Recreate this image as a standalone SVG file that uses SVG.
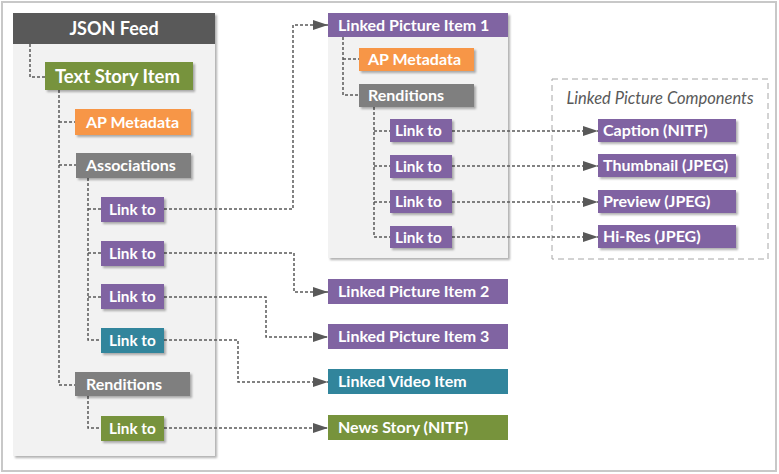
<svg xmlns="http://www.w3.org/2000/svg" width="779" height="474" viewBox="0 0 779 474">
<defs>
<style>
.t{font-family:Lato,"Liberation Sans",sans-serif;font-weight:bold;fill:#ffffff;font-size:16px}
.l{font-size:15.3px}
.big{font-size:18.5px}
.hdr{font-size:18px}
.it{font-family:Lato,"Liberation Sans",sans-serif;font-style:italic;fill:#595959;font-size:16.5px}
.c{fill:none;stroke:#595959;stroke-width:1.5;stroke-dasharray:3 2}
.panel{fill:#f2f2f2}
.g{fill:#77933c}.o{fill:#f79646}.gr{fill:#7f7f7f}.p{fill:#8064a2}.tl{fill:#31859c}.dk{fill:#595959}
</style>
<filter id="sh" x="-10%" y="-10%" width="130%" height="140%">
<feDropShadow dx="2" dy="2" stdDeviation="0.8" flood-color="#000" flood-opacity="0.3"/>
</filter>
<marker id="ar" markerUnits="userSpaceOnUse" markerWidth="15" markerHeight="10" refX="15" refY="5" orient="auto">
<path d="M0,0 L15,5 L0,10 z" fill="#595959"/>
</marker>
</defs>
<rect x="2" y="2" width="774" height="469" fill="#ffffff" stroke="#c8c8c8" stroke-width="2"/>

<g id="json-feed">
<rect x="13" y="13" width="202" height="443" class="panel" filter="url(#sh)"/>
<rect x="13" y="13" width="202" height="31" class="dk"/>
<text x="114" y="35" class="t hdr" text-anchor="middle">JSON Feed</text>
</g>
<g id="linked-picture-item-1">
<rect x="328" y="13" width="180" height="245" class="panel" filter="url(#sh)"/>
<rect x="328" y="13" width="180" height="24" class="p"/>
<text x="338" y="30.5" class="t">Linked Picture Item 1</text>
</g>
<g id="components">
<rect x="552" y="79" width="216" height="180" fill="none" stroke="#a6a6a6" stroke-width="1" stroke-dasharray="6 4"/>
<text x="660" y="104" class="it" text-anchor="middle">Linked Picture Components</text>
</g>

<g id="connectors">
<path class="c" d="M30,44 V77 H45"/>
<path class="c" d="M59,90 V385 H75 M59,122 H75 M59,165 H76"/>
<path class="c" d="M88,178 V340 H101 M88,209 H101 M88,253 H101 M88,297 H101"/>
<path class="c" d="M88,396 V428 H101"/>
<path class="c" d="M164,209 H293 V25 H328" marker-end="url(#ar)"/>
<path class="c" d="M164,253 H294 V292 H328" marker-end="url(#ar)"/>
<path class="c" d="M164,297 H266 V337 H328" marker-end="url(#ar)"/>
<path class="c" d="M164,340 H238 V382 H328" marker-end="url(#ar)"/>
<path class="c" d="M164,428 H328" marker-end="url(#ar)"/>
<path class="c" d="M343,37 V95 H359 M343,59 H359"/>
<path class="c" d="M374,107 V237 H390 M374,131 H390 M374,166 H390 M374,202 H390"/>
<path class="c" d="M452,131 H598" marker-end="url(#ar)"/>
<path class="c" d="M452,166 H598" marker-end="url(#ar)"/>
<path class="c" d="M452,202 H598" marker-end="url(#ar)"/>
<path class="c" d="M452,237 H598" marker-end="url(#ar)"/>
</g>

<g id="text-story-item"><rect x="45" y="62" width="148" height="28" class="g" filter="url(#sh)"/><text x="55" y="82.5" class="t big">Text Story Item</text></g>
<g id="ap-metadata"><rect x="75" y="109" width="116" height="26" class="o" filter="url(#sh)"/><text x="86" y="127.5" class="t">AP Metadata</text></g>
<g id="associations"><rect x="76" y="153" width="115" height="25" class="gr" filter="url(#sh)"/><text x="86" y="171" class="t">Associations</text></g>
<g id="link-1"><rect x="101" y="197" width="63" height="25" class="p" filter="url(#sh)"/><text x="109" y="215" class="t l">Link to</text></g>
<g id="link-2"><rect x="101" y="241" width="63" height="25" class="p" filter="url(#sh)"/><text x="109" y="259" class="t l">Link to</text></g>
<g id="link-3"><rect x="101" y="284" width="63" height="25" class="p" filter="url(#sh)"/><text x="109" y="302" class="t l">Link to</text></g>
<g id="link-4"><rect x="101" y="328" width="63" height="25" class="tl" filter="url(#sh)"/><text x="109" y="346" class="t l">Link to</text></g>
<g id="renditions"><rect x="75" y="372" width="115" height="24" class="gr" filter="url(#sh)"/><text x="86" y="389.5" class="t">Renditions</text></g>
<g id="link-5"><rect x="101" y="416" width="63" height="25" class="g" filter="url(#sh)"/><text x="109" y="434" class="t l">Link to</text></g>

<g id="lpi1-ap-metadata"><rect x="359" y="48" width="115" height="23" class="o" filter="url(#sh)"/><text x="368" y="65" class="t">AP Metadata</text></g>
<g id="lpi1-renditions"><rect x="359" y="84" width="115" height="23" class="gr" filter="url(#sh)"/><text x="368" y="101" class="t">Renditions</text></g>
<g id="lpi1-link-1"><rect x="390" y="119" width="62" height="23" class="p" filter="url(#sh)"/><text x="395" y="136" class="t l">Link to</text></g>
<g id="lpi1-link-2"><rect x="390" y="155" width="62" height="23" class="p" filter="url(#sh)"/><text x="395" y="172" class="t l">Link to</text></g>
<g id="lpi1-link-3"><rect x="390" y="190" width="62" height="23" class="p" filter="url(#sh)"/><text x="395" y="207" class="t l">Link to</text></g>
<g id="lpi1-link-4"><rect x="390" y="226" width="62" height="22" class="p" filter="url(#sh)"/><text x="395" y="243" class="t l">Link to</text></g>

<g id="caption"><rect x="598" y="119" width="138" height="23" class="p" filter="url(#sh)"/><text x="603" y="136" class="t">Caption (NITF)</text></g>
<g id="thumbnail"><rect x="598" y="154" width="138" height="23" class="p" filter="url(#sh)"/><text x="603" y="171" class="t">Thumbnail (JPEG)</text></g>
<g id="preview"><rect x="598" y="190" width="138" height="23" class="p" filter="url(#sh)"/><text x="603" y="207" class="t">Preview (JPEG)</text></g>
<g id="hi-res"><rect x="598" y="225" width="138" height="23" class="p" filter="url(#sh)"/><text x="603" y="242" class="t">Hi-Res (JPEG)</text></g>

<g id="linked-picture-item-2"><rect x="328" y="279" width="180" height="25" class="p"/><text x="338" y="297" class="t">Linked Picture Item 2</text></g>
<g id="linked-picture-item-3"><rect x="328" y="324" width="180" height="25" class="p"/><text x="338" y="342" class="t">Linked Picture Item 3</text></g>
<g id="linked-video-item"><rect x="328" y="369" width="180" height="25" class="tl"/><text x="338" y="387" class="t">Linked Video Item</text></g>
<g id="news-story"><rect x="328" y="415" width="180" height="25" class="g"/><text x="338" y="433" class="t">News Story (NITF)</text></g>
</svg>
